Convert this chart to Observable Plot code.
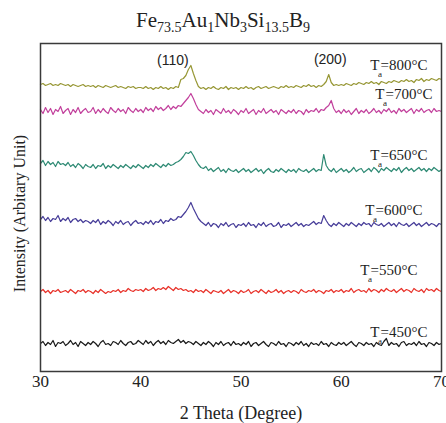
<!DOCTYPE html>
<html><head><meta charset="utf-8">
<script src="https://cdn.jsdelivr.net/npm/d3@7"></script>
<script src="https://cdn.jsdelivr.net/npm/@observablehq/plot@0.6"></script>
<style>
body{margin:0;background:#fff;width:446px;height:423px;overflow:hidden}
#title{height:38px;line-height:40px;text-align:center;font-family:"Liberation Serif",serif;font-size:21px;color:#222;white-space:nowrap}
#title sub{font-size:14px;vertical-align:-5px;line-height:0}
</style></head>
<body>
<div id="title">Fe<sub>73.5</sub>Au<sub>1</sub>Nb<sub>3</sub>Si<sub>13.5</sub>B<sub>9</sub></div>
<div id="chart"></div>
<script>
// 2θ sampling grid (degrees), step 0.25
const thetaStart = 30, thetaStep = 0.25;
const xTicks = [30, 40, 50, 60, 70];

// Intensity (arbitrary units, stacked offsets as drawn)
const i450 = [28,30,26,29,27,31,25,29,28,30,26,28,31,27,29,25,30,28,26,29,
27,30,28,25,29,31,27,28,26,30,29,27,31,28,26,29,30,27,28,31,
29,27,31,28,30,26,29,31,28,30,27,31,29,28,30,32,29,31,28,30,
29,27,30,28,26,29,27,30,28,25,29,27,30,26,28,29,26,30,27,28,
26,29,27,30,25,28,29,26,28,30,27,25,29,28,26,30,27,28,25,29,
28,26,29,27,30,26,28,25,29,27,28,26,30,27,28,25,29,27,26,29,
27,29,26,28,30,27,25,29,28,26,29,27,28,25,29,27,26,30,33,26,
29,27,28,25,29,30,26,28,27,29,26,30,27,28,25,29,28,26,29,27,28];
const i550 = [80,82,79,81,78,81,80,82,79,80,81,79,82,80,78,81,80,82,79,81,
80,78,81,79,82,80,78,80,79,81,80,82,79,81,80,83,81,80,82,81,
82,80,83,81,82,84,81,83,82,84,82,85,83,81,84,82,83,81,82,80,
81,79,82,80,81,79,82,80,78,81,80,79,81,78,80,82,79,81,80,78,
81,79,80,82,78,80,81,79,82,80,78,81,79,80,82,79,81,78,80,81,
79,81,80,78,82,80,79,81,80,82,79,81,80,78,81,80,82,79,81,80,
82,79,81,80,83,79,81,82,80,81,79,83,80,82,81,79,82,80,83,81,
80,82,79,81,83,80,82,81,79,83,81,80,82,79,83,81,82,80,83,81,80];
const i600 = [152,155,151,154,150,153,152,156,150,153,151,154,149,152,153,150,152,149,151,150,
148,151,149,152,147,150,148,151,149,146,150,148,151,147,149,150,146,149,151,148,
149,147,150,148,151,147,150,149,152,148,151,150,153,151,152,155,154,157,160,164,
169,163,158,153,150,148,146,149,145,148,147,144,148,146,149,145,147,148,144,147,
146,148,145,149,146,147,144,148,146,149,145,147,148,145,146,149,144,147,146,148,
145,147,149,146,148,145,147,146,148,150,147,149,148,156,151,147,145,148,146,149,
147,145,148,146,149,147,145,148,146,149,147,148,145,149,147,146,148,145,147,149,
146,148,145,149,147,146,148,145,147,149,146,148,145,147,149,146,148,147,145,148,147];
const i650 = [208,211,206,210,207,209,205,210,207,208,206,209,205,207,204,208,206,203,207,205,
204,207,203,206,205,208,203,206,204,207,205,203,206,204,207,205,203,206,204,207,
205,203,206,204,207,205,208,206,204,207,205,208,206,207,209,210,212,215,219,218,
220,216,211,207,204,203,205,201,203,200,202,204,200,202,199,203,201,200,202,199,
201,203,200,202,199,201,203,200,202,198,201,203,200,199,202,200,203,201,199,202,
200,202,199,203,201,200,202,199,201,203,200,202,201,217,206,202,200,203,199,201,
203,200,202,199,201,204,200,202,203,199,201,203,200,204,202,199,203,201,204,202,
200,203,201,204,199,202,204,201,203,200,202,204,201,203,200,203,201,204,202,200,202];
const i700 = [262,258,264,259,263,257,262,260,265,258,261,263,257,262,259,264,258,261,263,259,
260,264,258,262,259,263,260,258,264,261,259,263,260,262,258,264,261,259,263,260,
262,259,264,261,263,260,265,262,264,261,263,266,262,265,263,266,265,268,271,274,
278,273,267,262,260,258,262,259,261,257,262,260,258,263,259,261,258,262,260,257,
261,259,263,258,260,262,257,261,259,263,258,260,262,259,261,257,262,260,258,261,
259,262,258,261,260,257,262,259,261,260,263,259,262,261,264,266,271,263,259,261,
258,262,259,261,257,260,263,258,261,259,262,258,260,263,259,261,258,262,260,263,
259,261,258,263,260,262,259,261,263,258,262,260,263,259,261,262,259,263,260,261,260];
const i800 = [287,288,286,287,288,286,287,286,288,287,286,287,285,287,286,285,286,287,285,286,
285,286,284,286,285,284,286,285,284,285,286,284,285,284,283,285,284,285,283,284,
284,283,285,283,284,282,284,283,285,283,284,282,284,283,285,284,292,293,296,302,
306,298,291,285,283,284,282,284,283,285,283,282,284,283,285,282,284,283,284,282,
284,283,285,283,284,282,284,285,283,284,285,283,284,285,284,283,285,284,286,284,
285,284,286,285,284,286,285,287,285,286,284,286,285,287,290,297,289,286,287,286,
287,286,288,287,286,288,287,289,288,287,289,288,290,288,289,287,290,289,288,290,
289,291,290,289,291,290,292,290,291,289,292,291,293,290,292,291,293,292,291,293,292];

const seriesNames = ["800", "700", "650", "600", "550", "450"];
const seriesValues = [i800, i700, i650, i600, i550, i450];
const seriesColors = ["#979735", "#c2409c", "#2e8a74", "#473d99", "#e8322a", "#1a1a1a"];

// label anchor (2θ of the "T" left edge, intensity of text centre)
const labelX = [62.9, 63.4, 62.9, 62.4, 61.9, 62.9];
const labelY = [306, 277, 216, 161, 101, 39];

const peakNames = ["(110)", "(200)"];
const peakX = [43.2, 58.9];
const peakY = [311, 312];

const rows = [];
seriesNames.forEach((s, k) => seriesValues[k].forEach((v, i) =>
  rows.push({series: s, theta: thetaStart + i * thetaStep, intensity: v})));
const labels = seriesNames.map((s, k) => ({series: s, x: labelX[k], y: labelY[k]}));
const peaks = peakNames.map((p, k) => ({text: p, x: peakX[k], y: peakY[k]}));

const serif = "Liberation Serif, Times New Roman, serif";
const chart = Plot.plot({
  width: 446, height: 385,
  marginLeft: 40, marginRight: 5, marginTop: 5, marginBottom: 52,
  style: {fontFamily: serif, fontSize: "17px", color: "#222", background: "#fff"},
  x: {domain: [30, 70]},
  y: {domain: [0, 328], axis: null},
  color: {domain: seriesNames, range: seriesColors},
  marks: [
    Plot.line(rows, {x: "theta", y: "intensity", z: "series", stroke: "series", strokeWidth: 1.2}),
    Plot.frame({stroke: "#3a3a3a", strokeWidth: 1.5}),
    Plot.axisX({ticks: xTicks, tickSize: 0, tickPadding: 3, fontSize: 17, label: null}),
    Plot.text(["2 Theta (Degree)"], {frameAnchor: "bottom", lineAnchor: "middle", textAnchor: "middle", dy: 42, fontSize: 18, fill: "#222"}),
    Plot.text(["Intensity (Arbitary Unit)"], {frameAnchor: "left", textAnchor: "middle", lineAnchor: "middle", dx: -21, dy: 6, rotate: -90, fontSize: 16, fill: "#222"}),
    Plot.text(labels, {x: "x", y: "y", text: d => "T_a=" + d.series + "°C", textAnchor: "start", fontSize: 15, fill: "#222"}),
    Plot.text(peaks, {x: "x", y: "y", text: "text", fontSize: 14, fontFamily: "Liberation Sans, Arial, sans-serif", fill: "#222"})
  ]
});
document.getElementById("chart").appendChild(chart);

// render the "a" of T_a as a subscript
const NS = "http://www.w3.org/2000/svg";
chart.querySelectorAll("text").forEach(t => {
  const m = /^T_a(=.*)$/.exec(t.textContent);
  if (!m) return;
  t.textContent = "T";
  const sub = document.createElementNS(NS, "tspan");
  sub.setAttribute("dx", "-1.5");
  sub.setAttribute("dy", "7");
  sub.setAttribute("font-size", "9");
  sub.textContent = "a";
  const rest = document.createElementNS(NS, "tspan");
  rest.setAttribute("dx", "-1.5");
  rest.setAttribute("dy", "-7");
  rest.textContent = m[1];
  t.appendChild(sub);
  t.appendChild(rest);
});
</script>
</body></html>
